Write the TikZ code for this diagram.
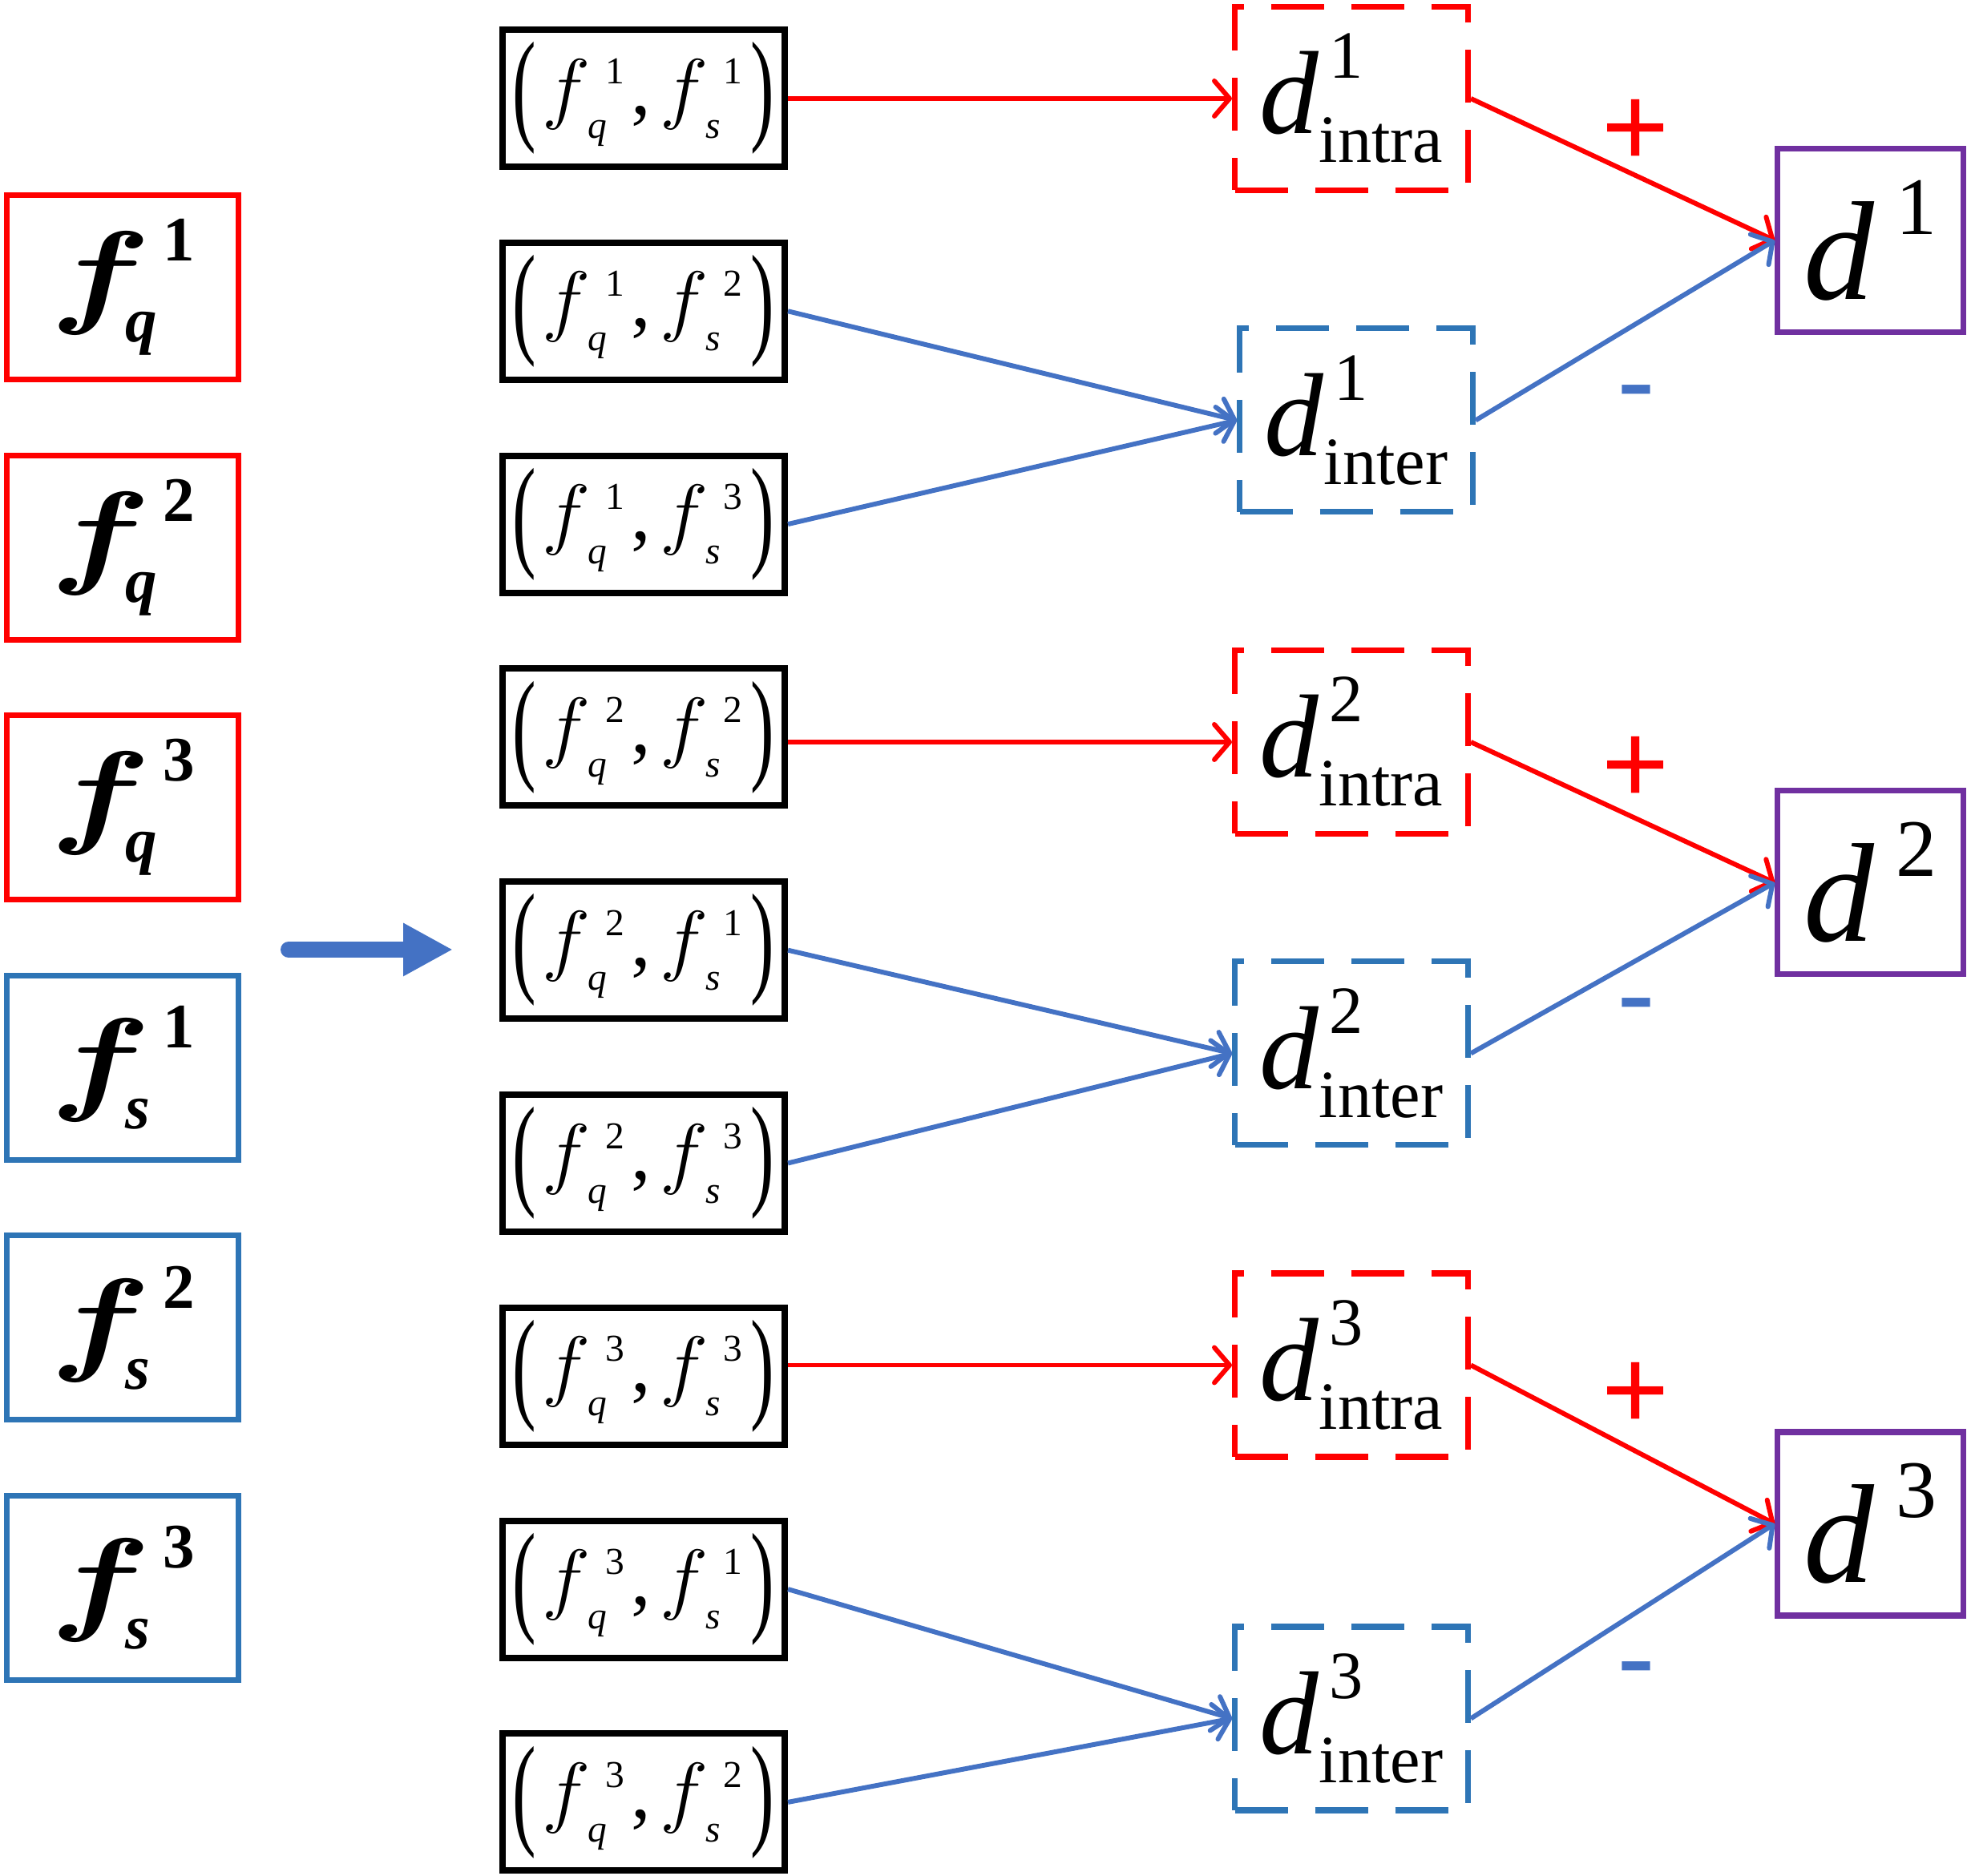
\documentclass[tikz,border=0pt]{standalone}
\usepackage{fontspec}
\setmainfont{Liberation Serif}
\newfontfamily\signfont{Liberation Sans}
\usepackage{graphicx}
\usetikzlibrary{arrows.meta, positioning}
\definecolor{fred}{HTML}{FF0000}
\definecolor{fblue}{HTML}{2E75B6}
\definecolor{lblue}{HTML}{4472C4}
\definecolor{fpurple}{HTML}{7030A0}
% sup, sub, size, raise, lower, sup kern, sub kern
\newcommand{\supsub}[7]{{\fontsize{#3}{#3}\selectfont
  \ooalign{\kern#6\raisebox{#4}{#1}\cr\kern#7\raisebox{-#5}{#2}\cr}}}
% math f drawn at 20.74pt and scaled
\newcommand{\mf}[3]{\scalebox{#1}[#2]{\fontsize{20.74}{20.74}\selectfont#3$f$}}
\newcommand{\fcol}[2]{\mf{2.55}{1.977}{\boldmath}%
  \supsub{\bfseries #1}{\bfseries\itshape #2}{22.5}{0.64cm}{0.37cm}{0.15cm}{-0.32cm}}
\newcommand{\fpel}[2]{\mf{1.4}{1.35}{}%
  \supsub{#1}{\itshape #2}{13.5}{0.38cm}{0.30cm}{0.19cm}{-0.03cm}}
\newcommand{\fpair}[2]{%
  \raisebox{-5pt}{\scalebox{0.9}[1.57]{(}}\kern0.07cm\fpel{#1}{q}\kern0.08cm,\kern0.12cm%
  \fpel{#2}{s}\kern0.1cm\raisebox{-5pt}{\scalebox{0.9}[1.57]{)}}}
\newcommand{\dsub}[2]{{\itshape d\/}\supsub{#1}{#2}{24}{0.69cm}{0.36cm}{0.13cm}{0cm}}
\newcommand{\dres}[1]{{\itshape d\/}\kern0.27cm\raisebox{0.81cm}{\fontsize{29}{29}\selectfont #1}}

\begin{document}
\begin{tikzpicture}[
  fnode/.style={line width=2pt, minimum width=2.89cm, minimum height=2.30cm, inner sep=0pt,
                font=\fontsize{41}{41}\selectfont},
  pnode/.style={draw=black, line width=2.3pt, minimum width=3.52cm, minimum height=1.71cm,
                inner sep=0pt, font=\fontsize{28}{28}\selectfont},
  dnode/.style={line width=2pt, dash pattern=on 0.66cm off 0.34cm, minimum width=2.91cm,
                minimum height=2.29cm, inner sep=0pt, font=\fontsize{42}{42}\selectfont},
  rnode/.style={draw=fpurple, line width=2pt, minimum width=2.32cm, minimum height=2.29cm,
                inner sep=0pt, font=\fontsize{50}{50}\selectfont},
  sign/.style={anchor=base, inner sep=0pt, font=\signfont\fontsize{41}{41}\selectfont},
  ra/.style={-{Straight Barb[length=1.9mm, width=4.4mm, round]}, line width=1.7pt, fred},
  ba/.style={-{Straight Barb[length=1.9mm, width=4.4mm, round]}, line width=1.7pt, lblue},
]
  \useasboundingbox (0,0) rectangle (24.59,23.41);
  % input features
  \node[fnode, draw=fred] (fq1) at (1.53,19.825) {\fcol{1}{q}};
  \node[fnode, draw=fred] (fq2) at (1.53,16.579) {\fcol{2}{q}};
  \node[fnode, draw=fred] (fq3) at (1.53,13.333) {\fcol{3}{q}};
  \node[fnode, draw=fblue] (fs1) at (1.53,10.087) {\fcol{1}{s}};
  \node[fnode, draw=fblue] (fs2) at (1.53,6.841) {\fcol{2}{s}};
  \node[fnode, draw=fblue] (fs3) at (1.53,3.595) {\fcol{3}{s}};
  \coordinate (ms) at (3.60,11.56);
  \coordinate (me) at (5.65,11.56);
  \draw[lblue, line width=0.2cm, line cap=round, -{Triangle[length=0.62cm, width=0.62cm]}] (ms) -- (me);
  % pairs
  \node[pnode] (p11) at (8.03,22.185) {\fpair{1}{1}};
  \node[pnode] (p12) at (8.03,19.527) {\fpair{1}{2}};
  \node[pnode] (p13) at (8.03,16.869) {\fpair{1}{3}};
  \node[pnode] (p22) at (8.03,14.211) {\fpair{2}{2}};
  \node[pnode] (p21) at (8.03,11.553) {\fpair{2}{1}};
  \node[pnode] (p23) at (8.03,8.895) {\fpair{2}{3}};
  \node[pnode] (p33) at (8.03,6.237) {\fpair{3}{3}};
  \node[pnode] (p31) at (8.03,3.579) {\fpair{3}{1}};
  \node[pnode] (p32) at (8.03,0.921) {\fpair{3}{2}};
  % distances
  \node[dnode, draw=fred] (da1) at (16.86,22.18) {\dsub{1}{intra}};
  \node[dnode, draw=fblue] (de1) at (16.92,18.165) {\dsub{1}{inter}};
  \node[dnode, draw=fred] (da2) at (16.86,14.15) {\dsub{2}{intra}};
  \node[dnode, draw=fblue] (de2) at (16.86,10.265) {\dsub{2}{inter}};
  \node[dnode, draw=fred] (da3) at (16.86,6.375) {\dsub{3}{intra}};
  \node[dnode, draw=fblue] (de3) at (16.86,1.965) {\dsub{3}{inter}};
  \node[rnode] (d1) at (23.335,20.41) {\dres{1}};
  \node[rnode] (d2) at (23.335,12.395) {\dres{2}};
  \node[rnode] (d3) at (23.335,4.395) {\dres{3}};
  % signs
  \node[sign, fred] (pl1) at (20.41,21.33) {+};
  \node[sign, lblue] (mi1) at (20.41,18.16) {-};
  \node[sign, fred] (pl2) at (20.41,13.38) {+};
  \node[sign, lblue] (mi2) at (20.41,10.51) {-};
  \node[sign, fred] (pl3) at (20.41,5.57) {+};
  \node[sign, lblue] (mi3) at (20.41,2.23) {-};
  % connectors
  \draw[ra] (p11.east |- da1.west) -- (da1.west);
  \draw[ba] (p12.east) -- (de1.west);
  \draw[ba] (p13.east) -- (de1.west);
  \draw[ra] (p22.east |- da2.west) -- (da2.west);
  \draw[ba] (p21.east) -- (de2.west);
  \draw[ba] (p23.east) -- (de2.west);
  \draw[ra] (p33.east |- da3.west) -- (da3.west);
  \draw[ba] (p31.east) -- (de3.west);
  \draw[ba] (p32.east) -- (de3.west);
  \draw[ra] (da1.east) -- (d1.west);
  \draw[ba] (de1.east) -- (d1.west);
  \draw[ra] (da2.east) -- (d2.west);
  \draw[ba] (de2.east) -- (d2.west);
  \draw[ra] (da3.east) -- (d3.west);
  \draw[ba] (de3.east) -- (d3.west);
\end{tikzpicture}
\end{document}
